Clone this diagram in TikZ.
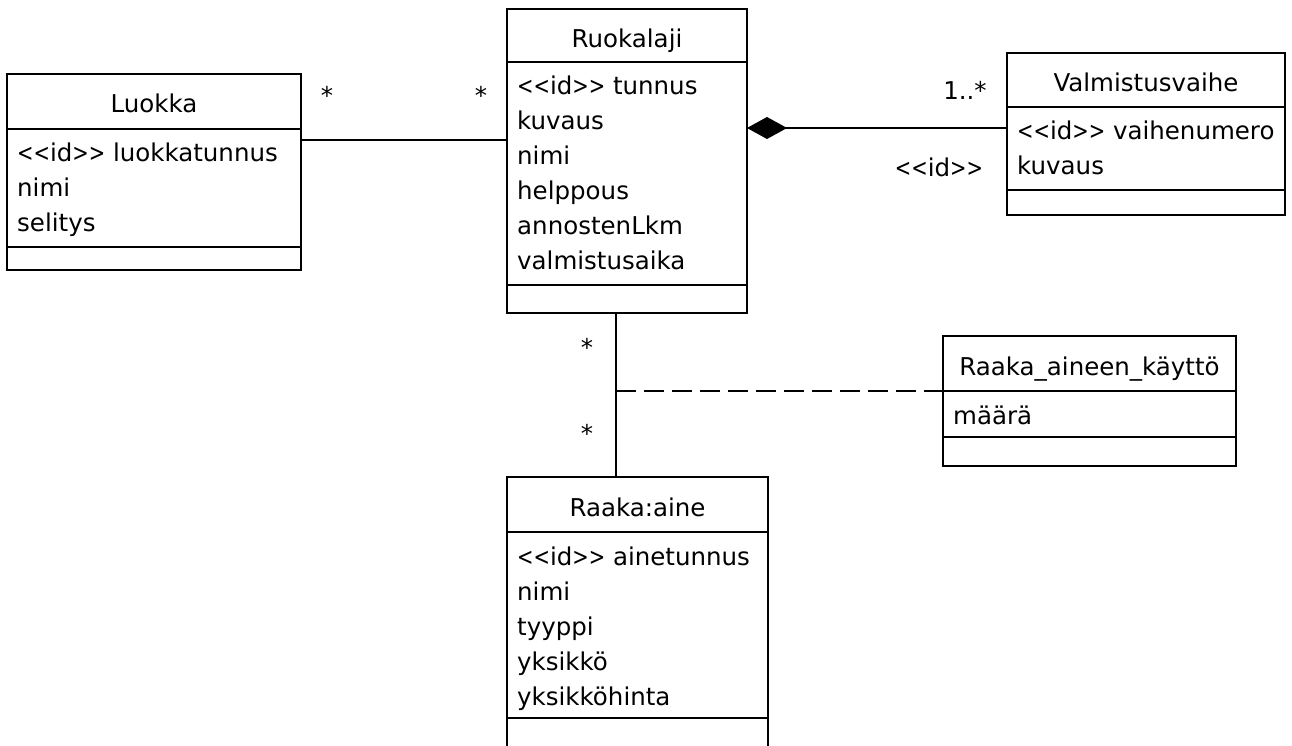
\documentclass[tikz,border=0pt]{standalone}
\usepackage{graphicx}
\usepackage{fontspec}
\setmainfont{DejaVu Sans}[Ligatures=TeXOff]
\usetikzlibrary{arrows.meta}
\newcommand{\stid}{\scalebox{0.8}[1]{<<}id\scalebox{0.8}[1]{>>}}
\newcommand{\umlclass}[8]{%
  \node[box, minimum width=#4pt, minimum height=#5pt, anchor=north west] (#1-h) at (#2,#3) {};
  \node[box, minimum width=#4pt, minimum height=#6pt, anchor=north west] (#1-a) at (#1-h.south west) {};
  \node[box, minimum width=#4pt, minimum height=#7pt, anchor=north west] (#1-e) at (#1-a.south west) {};
  \node[title] (#1-t) at ([yshift=-39pt]#1-h.north) {#8};
}
\newcommand{\umlattrs}[2]{%
  \node[attr] (#1-l) at ([xshift=10pt,yshift=-33pt]#1-a.north west) {\begin{tabular}[t]{@{}l@{}}#2\end{tabular}};
}
\tikzset{
  box/.style={draw, line width=1.8pt, inner sep=0pt, outer sep=0pt, fill=white},
  title/.style={inner sep=0pt, anchor=base, font=\fontsize{24.5}{35}\selectfont},
  attr/.style={inner sep=0pt, anchor=base west, font=\fontsize{24.5}{35}\selectfont},
  mult/.style={inner sep=0pt, font=\fontsize{24.5}{35}\selectfont},
  conn/.style={line width=1.8pt},
}
\begin{document}
\begin{tikzpicture}[x=1pt, y=-1pt]
\clip (0,0) rectangle (1292,746);
\fill[white] (0,0) rectangle (1292,746);

\umlclass{luokka}{7}{74}{294}{55}{118}{23}{Luokka}
\umlattrs{luokka}{\stid\ luokkatunnus\\nimi\\selitys}

\umlclass{ruok}{507}{9}{240}{53}{223}{28}{Ruokalaji}
\umlattrs{ruok}{\stid\ tunnus\\kuvaus\\nimi\\helppous\\annostenLkm\\valmistusaika}

\umlclass{valm}{1007}{53}{278}{54}{83}{25}{Valmistusvaihe}
\umlattrs{valm}{\stid\ vaihenumero\\kuvaus}

\umlclass{raaka}{507}{477}{261}{55}{186}{60}{Raaka:aine}
\umlattrs{raaka}{\stid\ ainetunnus\\nimi\\tyyppi\\yksikkö\\yksikköhinta}

\umlclass{kaytto}{943}{336}{293}{55}{46}{29}{Raaka\_aineen\_käyttö}
\umlattrs{kaytto}{määrä}

% Luokka -- Ruokalaji
\draw[conn] ([yshift=-11pt]luokka-a.north east) -- ([yshift=-11pt]luokka-a.north east -| ruok-a.west);
% composition
\draw[conn, -{Diamond[length=40pt, width=22pt]}] ([yshift=-21pt]valm-a.north west) -- ([yshift=-21pt]valm-a.north west -| ruok-a.east);
% Ruokalaji -- Raaka:aine
\draw[conn] ([xshift=-11pt]ruok-e.south) -- ([xshift=-11pt]ruok-e.south |- raaka-h.north);
\coordinate (assoc) at ([xshift=-11pt]ruok-e.south |- kaytto-a.north west);
\draw[conn, dash pattern=on 20pt off 8pt] (assoc) -- (kaytto-a.north west);

% multiplicities
\node[mult] (m1) at (327,95) {*};
\node[mult] (m2) at (481,95) {*};
\node[mult] (m3) at (587,347) {*};
\node[mult] (m4) at (587,433) {*};
\node[mult] (m5) at (965,90) {1..*};
\node[mult] (m6) at (939,167) {\stid};
\end{tikzpicture}
\end{document}
